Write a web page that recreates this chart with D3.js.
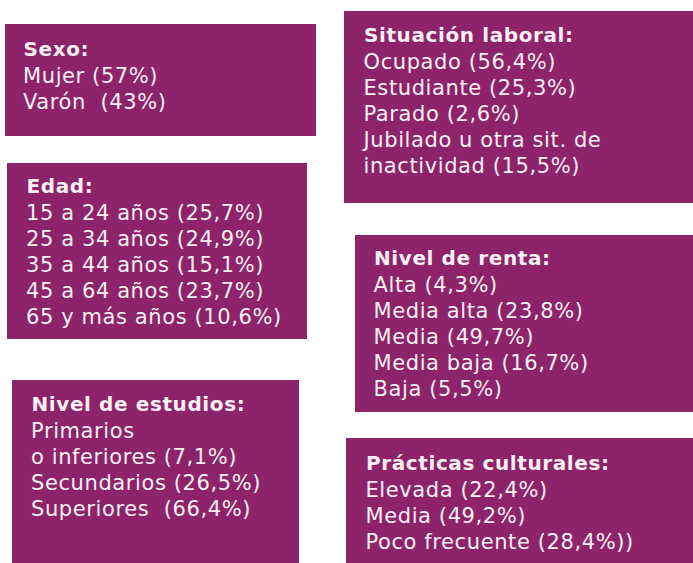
<!DOCTYPE html>
<html>
<head>
<meta charset="utf-8">
<script src="https://cdn.jsdelivr.net/npm/d3@7"></script>
<style>
    body { margin: 0; background: #fff; }
    svg text { white-space: pre; font-family: "DejaVu Sans", Verdana, sans-serif; }
</style>
</head>
<body>
<script>
'use strict';

// titles of the panels
const titles = ["Sexo:", "Situación laboral:", "Edad:", "Nivel de renta:",
    "Nivel de estudios:", "Prácticas culturales:"];

// lines of text in every panel
const sexo = ["Mujer (57%)", "Varón  (43%)"];
const situacion = ["Ocupado (56,4%)", "Estudiante (25,3%)", "Parado (2,6%)",
    "Jubilado u otra sit. de", "inactividad (15,5%)"];
const edad = ["15 a 24 años (25,7%)", "25 a 34 años (24,9%)", "35 a 44 años (15,1%)",
    "45 a 64 años (23,7%)", "65 y más años (10,6%)"];
const renta = ["Alta (4,3%)", "Media alta (23,8%)", "Media (49,7%)",
    "Media baja (16,7%)", "Baja (5,5%)"];
const estudios = ["Primarios", "o inferiores (7,1%)", "Secundarios (26,5%)",
    "Superiores  (66,4%)"];
const practicas = ["Elevada (22,4%)", "Media (49,2%)", "Poco frecuente (28,4%))"];

(function() {

    const width = 693, height = 563;
    const purple = "#8d2469";
    const textColor = "#f8eef4";

    // box layout: position, size and where the text starts
    const layout = [
        { x: 5,   y: 24,  w: 311, h: 112, tx: 23.5, ty: 56 },
        { x: 344, y: 11,  w: 349, h: 192, tx: 364,  ty: 42 },
        { x: 7,   y: 163, w: 300, h: 176, tx: 26.5, ty: 193 },
        { x: 355, y: 235, w: 338, h: 177, tx: 374,  ty: 265 },
        { x: 12,  y: 380, w: 287, h: 183, tx: 31.5, ty: 410.5 },
        { x: 346, y: 438, w: 347, h: 125, tx: 366,  ty: 470 }
    ];

    const lines = [sexo, situacion, edad, renta, estudios, practicas];

    const panels = layout.map((d, i) => Object.assign({}, d, {
        title: titles[i],
        lines: lines[i]
    }));

    const svg = d3.select("body")
        .append("svg")
        .attr("width", width)
        .attr("height", height);

    const g = svg.selectAll(".panel")
        .data(panels)
        .enter()
        .append("g")
        .attr("class", "panel");

    g.append("rect")
        .attr("x", d => d.x)
        .attr("y", d => d.y)
        .attr("width", d => d.w)
        .attr("height", d => d.h)
        .attr("fill", purple);

    g.append("text")
        .attr("x", d => d.tx)
        .attr("y", d => d.ty)
        .attr("fill", textColor)
        .style("font-size", "20px")
        .style("font-weight", "bold")
        .style("letter-spacing", "0.6px")
        .text(d => d.title);

    // body lines: first one 27px under the title, then every 26px
    g.each(function(d) {
        const lineY = d3.scaleLinear()
            .domain([0, 1])
            .range([d.ty + 27, d.ty + 53]);

        d3.select(this).selectAll(".line")
            .data(d.lines)
            .enter()
            .append("text")
            .attr("class", "line")
            .attr("x", d.tx - 0.5)
            .attr("y", (s, i) => lineY(i))
            .attr("fill", textColor)
            .style("font-size", "21px")
            .style("letter-spacing", "0.6px")
            .text(s => s);
    });

})();
</script>
</body>
</html>
